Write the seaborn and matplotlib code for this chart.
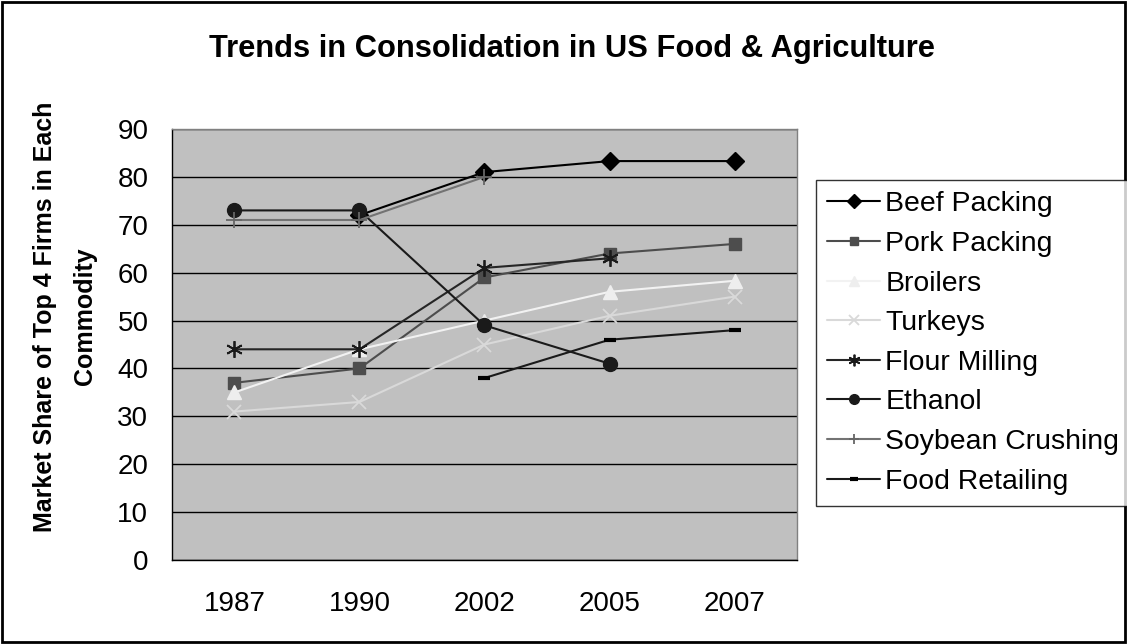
import numpy as np
import pandas as pd
import matplotlib
matplotlib.use("Agg")
import matplotlib.pyplot as plt
from matplotlib.lines import Line2D
from matplotlib.patches import Rectangle
import seaborn as sns

# Census years shown on the category axis
years = ["1987", "1990", "2002", "2005", "2007"]

# Four-firm concentration ratios (%) by commodity; NaN = no figure for that year
beef_packing = [np.nan, 72, 81, 83.3, 83.3]
pork_packing = [37, 40, 59, 64, 66]
broilers = [35, 44, 50, 56, 58.3]
turkeys = [31, 33, 45, 51, 55]
flour_milling = [44, 44, 61, 63, np.nan]
ethanol = [73, 73, 49, 41, np.nan]
soybean_crushing = [71, 71, 80, np.nan, np.nan]
food_retailing = [np.nan, np.nan, 38, 46, 48]

series_names = ["Beef Packing", "Pork Packing", "Broilers", "Turkeys",
                "Flour Milling", "Ethanol", "Soybean Crushing", "Food Retailing"]
series_values = [beef_packing, pork_packing, broilers, turkeys,
                 flour_milling, ethanol, soybean_crushing, food_retailing]

# Excel-like monochrome styling for each series
styles = {
    "Beef Packing":     dict(color="#000000", marker="D", ms=9.5, mfc="#000000", mec="#000000", mew=1),
    "Pork Packing":     dict(color="#4D4D4D", marker="s", ms=9,   mfc="#4D4D4D", mec="#4D4D4D", mew=1),
    "Broilers":         dict(color="#F2F2F2", marker="^", ms=10,  mfc="#EEEEEE", mec="#EEEEEE", mew=1),
    "Turkeys":          dict(color="#D9D9D9", marker="x", ms=10,  mfc="#D9D9D9", mec="#D9D9D9", mew=1.3),
    "Flour Milling":    dict(color="#262626", marker=(6, 2, 0), ms=12, mfc="#1A1A1A", mec="#1A1A1A", mew=1.3),
    "Ethanol":          dict(color="#1A1A1A", marker="o", ms=10,  mfc="#1A1A1A", mec="#1A1A1A", mew=1),
    "Soybean Crushing": dict(color="#737373", marker="+", ms=11,  mfc="#666666", mec="#666666", mew=1.3),
    "Food Retailing":   dict(color="#1A1A1A", marker="_", ms=8,   mfc="#000000", mec="#000000", mew=3),
}

rows = []
for name, vals in zip(series_names, series_values):
    for i, (yr, v) in enumerate(zip(years, vals)):
        rows.append({"series": name, "year": yr, "pos": i, "share": v})
df = pd.DataFrame(rows)

sns.set_style("white")
plt.rcParams["font.family"] = ["Liberation Sans", "DejaVu Sans"]
plt.rcParams["text.color"] = "black"
plt.rcParams["axes.labelcolor"] = "black"
plt.rcParams["xtick.color"] = "black"
plt.rcParams["ytick.color"] = "black"

fig = plt.figure(figsize=(11.27, 6.44), dpi=100)
ax = fig.add_axes([0.1526, 0.1304, 0.5546, 0.6693])
ax.set_facecolor("#C0C0C0")

for name in series_names:
    st = styles[name]
    sub = df[(df["series"] == name)].dropna(subset=["share"])
    sns.lineplot(data=sub, x="pos", y="share", ax=ax, color=st["color"],
                 linewidth=1.5, legend=False, zorder=3,
                 marker=st["marker"], markersize=st["ms"],
                 markerfacecolor=st["mfc"], markeredgecolor=st["mec"],
                 markeredgewidth=st["mew"])

ax.set_xlim(-0.5, len(years) - 0.5)
ax.set_ylim(0, 90)
ax.set_yticks(np.arange(0, 91, 10))
ax.yaxis.grid(True, color="black", linewidth=1)
ax.set_axisbelow(True)

# category boundaries carry the tick marks, labels sit between them
ax.set_xticks(np.arange(-0.5, len(years), 1.0))
ax.set_xticklabels([])
ax.set_xticks(np.arange(len(years)), minor=True)
ax.set_xticklabels(years, minor=True)
ax.tick_params(axis="x", which="major", direction="out", length=7, width=1)
ax.tick_params(axis="x", which="minor", length=0, pad=22, labelsize=20)
ax.tick_params(axis="y", direction="out", length=7, width=1, labelsize=20, pad=10)

ax.set_xlabel("")
ax.set_ylabel("Market Share of Top 4 Firms in Each\nCommodity", fontsize=18,
              fontweight="bold", linespacing=1.85)
ax.yaxis.set_label_coords(-0.12, 0.565)

for side in ["left", "bottom"]:
    ax.spines[side].set_color("black")
    ax.spines[side].set_linewidth(1)
for side in ["top", "right"]:
    ax.spines[side].set_color("#808080")
    ax.spines[side].set_linewidth(1)

fig.text(572 / 1127, 1 - 49 / 644, "Trends in Consolidation in US Food & Agriculture",
         ha="center", va="center", fontsize=22.2, fontweight="bold")

handles = []
for name in series_names:
    st = styles[name]
    handles.append(Line2D([], [], color=st["color"], linewidth=1.5, marker=st["marker"],
                          markersize=st["ms"] * 0.7, markerfacecolor=st["mfc"],
                          markeredgecolor=st["mec"], markeredgewidth=st["mew"]))
leg = fig.legend(handles, series_names, loc="upper left",
                 bbox_to_anchor=(816 / 1127, 1 - 180 / 644), bbox_transform=fig.transFigure,
                 borderaxespad=0, frameon=True, fancybox=False, fontsize=20.4,
                 handlelength=1.85, handletextpad=0.2, labelspacing=0.48,
                 borderpad=0.4)
leg.get_frame().set_edgecolor("black")
leg.get_frame().set_linewidth(1)
leg.get_frame().set_facecolor("white")

# outer chart border
fig.patches.append(Rectangle((0.002, 0.003), 0.996, 0.994, transform=fig.transFigure,
                             fill=False, edgecolor="black", linewidth=2))

fig.savefig("out.png", dpi=100)
